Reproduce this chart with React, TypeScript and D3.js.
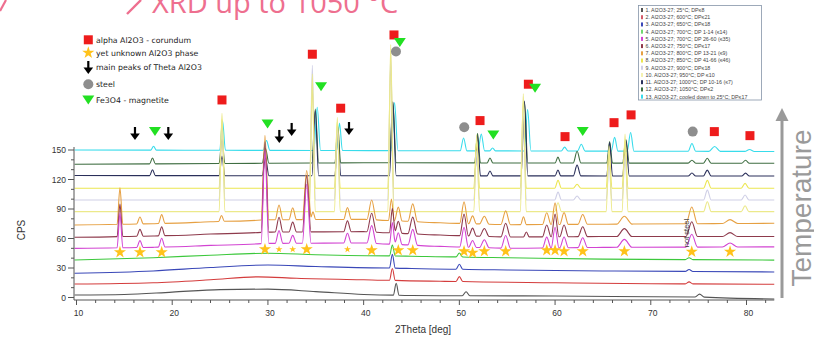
import React from 'react';
import * as d3 from 'd3';

type Pt = [number, number];
type Peak = [number, number, number]; // 2theta (deg), height (CPS), half-width (deg)

const W = 814;
const H = 342;

const seriesLabels = [
  '1. Al2O3-27; 25°C; DP≤8',
  '2. Al2O3-27; 600°C; DP≤21',
  '3. Al2O3-27; 650°C; DP≤18',
  '4. Al2O3-27; 700°C; DP 1-14 (≤14)',
  '5. Al2O3-27; 700°C; DP 26-60 (≤35)',
  '6. Al2O3-27; 750°C; DP≤17',
  '7. Al2O3-27; 800°C; DP 13-21 (≤9)',
  '8. Al2O3-27; 850°C; DP 41-66 (≤46)',
  '9. Al2O3-27; 900°C; DP≤18',
  '10. Al2O3-27; 950°C; DP ≤10',
  '11. Al2O3-27; 1000°C; DP 10-16 (≤7)',
  '12. Al2O3-27; 1050°C; DP≤2',
  '13. Al2O3-27; cooled down to 25°C; DP≤17',
];

const lineColors = ['#555555', '#d43c3c', '#3a48b8', '#3cc83c', '#d244d2', '#8e3a4c', '#e6a042', '#ece98a', '#cfcfe6', '#ece650', '#2a2f5a', '#3f6e42', '#38dceb'];
const swatchColors = ['#555555', '#d45a6a', '#3a48b8', '#6fd86f', '#d244d2', '#8e3a4c', '#e6a042', '#ece650', '#cfcfe6', '#f4f2b0', '#2a2f5a', '#3f6e42', '#38dceb'];

// baselines [2theta, CPS]
const base1: Pt[] = [[9.8, 2.5], [15, 3], [20, 5.5], [25, 8], [30, 8.5], [35, 6], [40, 3], [45, 2], [60, 1.5], [75, 0.5], [82.9, -1.5]];
const base2: Pt[] = [[9.8, 13.7], [18, 15], [24, 18], [29, 21], [33, 19.5], [40, 18], [48, 16.5], [60, 15], [70, 14], [82.9, 13.5]];
const base3: Pt[] = [[9.8, 24.6], [18, 27], [24, 30.5], [30, 33], [35, 31.5], [45, 29.5], [55, 28], [65, 27], [82.9, 26]];
const base4: Pt[] = [[9.8, 38.1], [18, 40.5], [24, 43], [30, 45], [35, 43.5], [45, 42], [55, 40.5], [65, 39], [82.9, 38]];
const base5: Pt[] = [[9.8, 50], [18, 51], [24, 53], [30, 55], [40, 55.5], [48, 52], [55, 50], [65, 51], [82.9, 51.5]];
const base6: Pt[] = [[9.8, 61.2], [18, 62.5], [24, 64.5], [30, 66.5], [40, 67], [48, 63.5], [55, 61.5], [65, 62], [82.9, 62]];
const base7: Pt[] = [[9.8, 73.8], [18, 75], [24, 77], [30, 79], [40, 79.5], [48, 76], [55, 74], [65, 74.5], [82.9, 75.5]];
const base8: Pt[] = [[9.8, 87.3], [82.9, 87.3]];
const base9: Pt[] = [[9.8, 99.2], [82.9, 99.2]];
const base10: Pt[] = [[9.8, 111.1], [82.9, 111.1]];
const base11: Pt[] = [[9.8, 124], [82.9, 123.5]];
const base12: Pt[] = [[9.8, 135.5], [40, 137], [82.9, 136.5]];
const base13: Pt[] = [[9.8, 150], [82.9, 148.5]];

// peaks
const peaks1: Peak[] = [[43.4, 12, 0.3], [50.7, 4, 0.4], [75.1, 3, 0.5]];
const peaks2: Peak[] = [[43.0, 12, 0.3], [50.0, 5, 0.35], [74.0, 2, 0.4]];
const peaks3: Peak[] = [[43.0, 14, 0.3], [50.0, 5, 0.35], [74.0, 2, 0.4]];
const peaks4: Peak[] = [[43.0, 11, 0.3], [50.0, 4, 0.35], [74.0, 2, 0.4]];
const peaks5: Peak[] = [
  [14.54, 35, 0.3], [16.63, 7, 0.35], [18.9, 9, 0.35], [29.69, 95, 0.4], [31.16, 13, 0.4], [32.59, 8, 0.4],
  [34.05, 60, 0.45], [38.31, 10, 0.4], [40.84, 18, 0.5], [43.0, 22, 0.3], [43.62, 12, 0.4], [45.13, 16, 0.5],
  [50.49, 20, 0.45], [51.38, 7, 0.4], [52.61, 8, 0.5], [54.84, 13, 0.5], [59.13, 11, 0.45], [60.0, 21, 0.4],
  [60.94, 11, 0.45], [62.89, 10, 0.5], [67.24, 8, 0.8], [74.28, 13, 0.6], [78.28, 4, 0.8],
];
const peaks6: Peak[] = [
  [14.54, 33, 0.3], [16.63, 7, 0.35], [18.9, 9, 0.35], [29.69, 92, 0.4], [31.16, 15, 0.4], [32.59, 10, 0.4],
  [34.05, 57, 0.45], [38.31, 11, 0.4], [40.84, 19, 0.5], [43.0, 25, 0.3], [43.62, 12, 0.4], [45.13, 17, 0.5],
  [50.49, 22, 0.45], [51.38, 8, 0.4], [52.61, 8, 0.5], [54.84, 14, 0.5], [57.0, 5, 0.3], [59.13, 12, 0.45],
  [60.0, 23, 0.4], [60.94, 12, 0.45], [62.89, 10, 0.5], [67.24, 8, 0.8], [74.28, 15, 0.6], [78.28, 4, 0.8],
];
const peaks7: Peak[] = [
  [14.54, 37, 0.3], [16.63, 7, 0.35], [18.9, 9, 0.35], [25.15, 6, 0.3], [29.69, 86, 0.4], [31.16, 15, 0.4],
  [32.59, 12, 0.4], [34.05, 50, 0.45], [34.7, 8, 0.3], [38.31, 12, 0.4], [40.84, 20, 0.5], [42.9, 22, 0.3],
  [43.62, 14, 0.4], [45.13, 18, 0.5], [50.49, 22, 0.45], [51.38, 8, 0.4], [52.61, 8, 0.5], [54.84, 14, 0.5],
  [56.7, 8, 0.3], [59.13, 12, 0.45], [60.0, 22, 0.4], [60.94, 12, 0.45], [62.89, 10, 0.5], [67.24, 8, 0.8],
  [74.28, 17, 0.6], [78.28, 4, 0.8],
];
const peaks8: Peak[] = [
  [25.2, 100, 0.3], [34.64, 140, 0.3], [37.25, 96, 0.3], [42.83, 170, 0.3], [51.81, 78, 0.3], [56.68, 120, 0.3],
  [60.31, 9, 0.35], [65.64, 67, 0.3], [67.31, 79, 0.3], [75.91, 10, 0.4], [79.85, 6, 0.4],
];
const peaks9: Peak[] = [
  [25.2, 75, 0.3], [34.64, 137, 0.3], [37.25, 75, 0.3], [42.83, 148, 0.3], [51.81, 50, 0.3], [56.68, 95, 0.3],
  [60.31, 8, 0.35], [62.3, 4, 0.4], [65.64, 35, 0.3], [67.31, 45, 0.3], [75.91, 10, 0.4], [79.85, 5, 0.4],
];
const peaks10: Peak[] = [
  [25.2, 70, 0.3], [34.64, 103, 0.3], [37.25, 68, 0.3], [42.83, 128, 0.3], [51.81, 48, 0.3], [56.68, 88, 0.3],
  [60.31, 8, 0.35], [62.3, 4, 0.4], [65.64, 38, 0.3], [67.31, 48, 0.3], [75.91, 8, 0.4], [79.85, 5, 0.4],
];
const peaks11: Peak[] = [
  [17.94, 6, 0.3], [25.2, 20, 0.3], [29.75, 18, 0.35], [34.95, 66, 0.35], [37.3, 45, 0.3], [43.05, 75, 0.35],
  [51.9, 40, 0.3], [53.2, 5, 0.3], [56.8, 76, 0.35], [60.3, 6, 0.3], [62.3, 11, 0.4], [65.7, 34, 0.3],
  [67.4, 36, 0.35], [74.3, 3, 0.4], [75.9, 6, 0.4], [79.9, 3, 0.4],
];
const peaks12: Peak[] = [
  [17.94, 6, 0.3], [25.2, 25, 0.3], [29.75, 15, 0.35], [34.95, 55, 0.35], [37.3, 37, 0.3], [43.05, 62, 0.35],
  [51.9, 30, 0.3], [53.2, 5, 0.3], [56.8, 62, 0.35], [60.3, 6, 0.3], [62.3, 12, 0.4], [65.7, 22, 0.3],
  [67.4, 24, 0.35], [74.3, 3, 0.4], [75.9, 5, 0.4], [79.9, 3, 0.4],
];
const peaks13: Peak[] = [
  [18.05, 4, 0.3], [25.26, 30, 0.3], [29.85, 10, 0.35], [35.15, 44, 0.35], [37.48, 28, 0.3], [43.23, 49, 0.35],
  [50.44, 13, 0.35], [52.29, 17, 0.35], [53.47, 3, 0.3], [57.13, 42, 0.35], [61.0, 4, 0.35], [62.74, 7, 0.4],
  [66.22, 14, 0.35], [67.89, 19, 0.35], [74.3, 8, 0.4], [76.67, 5, 0.6], [80.32, 2, 0.5],
];

const baselines = [base1, base2, base3, base4, base5, base6, base7, base8, base9, base10, base11, base12, base13];
const peakLists = [peaks1, peaks2, peaks3, peaks4, peaks5, peaks6, peaks7, peaks8, peaks9, peaks10, peaks11, peaks12, peaks13];

// annotation markers [2theta, CPS]
const corundumMarks: Pt[] = [[25.2, 200.9], [34.64, 247.4], [37.6, 192.5], [43.17, 267], [52.16, 179.9], [57.21, 216.9], [61.04, 163.6], [66.16, 177.8], [67.94, 185.7], [76.64, 168.7], [80.36, 164.6]];
const magnetiteMarks: Pt[] = [[18.2, 168.7], [29.96, 176.5], [35.55, 214.4], [43.78, 259.2], [53.55, 165.3], [57.91, 212.8], [62.89, 168.7]];
const steelMarks: Pt[] = [[43.38, 250.1], [50.51, 173.1], [74.38, 168.7]];
const thetaMarks: Pt[] = [[16.11, 173.4], [19.59, 173.4], [31.19, 170.4], [32.48, 177.5], [38.47, 178.5]];
const unknownMarks: Pt[] = [
  [14.54, 46], [16.63, 46], [18.9, 46], [29.69, 49], [34.05, 49], [40.84, 48], [43.62, 48], [45.13, 48],
  [50.49, 47], [51.38, 45.5], [52.61, 47], [54.84, 47], [59.13, 48], [60.0, 48], [60.94, 47], [62.89, 47],
  [67.24, 47], [74.28, 46.5], [78.28, 46.5],
];
const unknownSmallMarks: Pt[] = [[31.16, 49], [32.59, 49], [38.31, 49]];

const xTicks = [10, 20, 30, 40, 50, 60, 70, 80];
const xMinorTicks = [12, 14, 16, 18, 22, 24, 26, 28, 32, 34, 36, 38, 42, 44, 46, 48, 52, 54, 56, 58, 62, 64, 66, 68, 72, 74, 76, 78, 82];
const yTicks = [0, 30, 60, 90, 120, 150];
const yMinorTicks = [10, 20, 40, 50, 70, 80, 100, 110, 130, 140];

const phaseLegend = ['alpha Al2O3 - corundum', 'yet unknown Al2O3 phase', 'main peaks of Theta Al2O3', 'steel', 'Fe3O4 - magnetite'];

const FONT = '"Liberation Sans", Arial, sans-serif';
const STAR_COLOR = '#ffc21a';
const RED = '#ee1c1c';
const GREEN = '#22e022';
const GREY = '#8e8e8e';

function profile(base: Pt[], peaks: Peak[]): Pt[] {
  const bl = d3.scaleLinear().domain(base.map((b) => b[0])).range(base.map((b) => b[1]));
  const xs: number[] = [];
  base.forEach(([bx]) => {
    if (!peaks.some(([c, , w]) => Math.abs(bx - c) < w)) xs.push(bx);
  });
  peaks.forEach(([c, , w]) => xs.push(c - w, c, c + w));
  const sorted = Array.from(new Set(xs)).sort((a, b) => a - b);
  return sorted.map((px) => [
    px,
    bl(px) + d3.sum(peaks, ([c, h, w]) => Math.max(0, h * (1 - Math.abs(px - c) / w))),
  ]);
}

export default function App() {
  const x = d3.scaleLinear().domain([10, 80]).range([76.5, 746.5]);
  const y = d3.scaleLinear().domain([0, 150]).range([297.5, 150]);
  const line = d3
    .line<Pt>()
    .x((d) => x(d[0]))
    .y((d) => y(d[1]))
    .curve(d3.curveMonotoneX);

  const starBig = d3.symbol().type(d3.symbolStar).size(46)();
  const starSmall = d3.symbol().type(d3.symbolStar).size(15)();
  const axisX0 = 74;
  const axisY = 300;

  const tri = (cx: number, cy: number, s: number) =>
    `M${cx - s},${cy - s * 0.75}L${cx + s},${cy - s * 0.75}L${cx},${cy + s * 0.75}Z`;

  const arrow = (cx: number, top: number, key: string | number) => (
    <g key={key}>
      <line x1={cx} x2={cx} y1={top} y2={top + 8} stroke="#000" strokeWidth={2.2} />
      <path d={`M${cx - 4.8},${top + 6.5}L${cx + 4.8},${top + 6.5}L${cx},${top + 13}Z`} fill="#000" />
    </g>
  );

  const order = d3.range(12, -1, -1);

  return (
    <svg
      width={W}
      height={H}
      viewBox={`0 0 ${W} ${H}`}
      style={{ position: 'absolute', left: 0, top: 0, background: '#fff', overflow: 'hidden' }}
      fontFamily={FONT}
    >
      <rect x={0} y={0} width={W} height={H} fill="#fff" />

      {/* title fragment */}
      <line x1={0} y1={11} x2={6} y2={0} stroke="#ee6f8f" strokeWidth={2.2} />
      <line x1={127} y1={14} x2={141} y2={0} stroke="#ee6f8f" strokeWidth={2.4} />
      <text x={152} y={13} fontSize={29} fill="#ee6f8f" fontFamily='"Open Sans", "Liberation Sans", sans-serif'>
        XRD up to 1050 °C
      </text>

      {/* spectra */}
      {order.map((i) => (
        <path
          key={i}
          d={line(profile(baselines[i], peakLists[i])) || ''}
          fill="none"
          stroke={lineColors[i]}
          strokeWidth={1.1}
          strokeLinejoin="round"
        />
      ))}

      {/* axes */}
      <g stroke="#555" strokeWidth={1}>
        <line x1={axisX0} x2={axisX0} y1={y(150) - 3} y2={axisY} />
        <line x1={axisX0} x2={x(82.9)} y1={axisY} y2={axisY} />
        {yTicks.map((t) => (
          <line key={'ym' + t} x1={axisX0 - 6} x2={axisX0} y1={y(t)} y2={y(t)} />
        ))}
        {yMinorTicks.map((t) => (
          <line key={'yn' + t} x1={axisX0 - 3} x2={axisX0} y1={y(t)} y2={y(t)} />
        ))}
        {xTicks.map((t) => (
          <line key={'xm' + t} x1={x(t)} x2={x(t)} y1={axisY} y2={axisY + 5} />
        ))}
        {xMinorTicks.map((t) => (
          <line key={'xn' + t} x1={x(t)} x2={x(t)} y1={axisY} y2={axisY + 3} />
        ))}
      </g>
      {yTicks.map((t) => (
        <text key={'yl' + t} x={axisX0 - 8} y={y(t) + 3} fontSize={8.5} fill="#333" textAnchor="end">
          {t}
        </text>
      ))}
      {xTicks.map((t) => (
        <text key={'xl' + t} x={x(t) + 2} y={316} fontSize={8.5} fill="#333" textAnchor="middle">
          {t}
        </text>
      ))}
      <text x={423} y={333} fontSize={10} fill="#333" textAnchor="middle">
        2Theta [deg]
      </text>
      <text transform="translate(25,230) rotate(-90)" fontSize={10} fill="#333" textAnchor="middle">
        CPS
      </text>

      {/* phase markers */}
      {unknownMarks.map((d, i) => (
        <path key={'st' + i} d={starBig} transform={`translate(${x(d[0])},${y(d[1])})`} fill={STAR_COLOR} />
      ))}
      {unknownSmallMarks.map((d, i) => (
        <path key={'ss' + i} d={starSmall} transform={`translate(${x(d[0])},${y(d[1])})`} fill={STAR_COLOR} />
      ))}
      {corundumMarks.map((d, i) => (
        <rect key={'sq' + i} x={x(d[0]) - 4.5} y={y(d[1]) - 4.5} width={9} height={9} fill={RED} />
      ))}
      {steelMarks.map((d, i) => (
        <circle key={'ci' + i} cx={x(d[0])} cy={y(d[1])} r={5} fill={GREY} />
      ))}
      {magnetiteMarks.map((d, i) => (
        <path key={'tr' + i} d={tri(x(d[0]), y(d[1]), 6)} fill={GREEN} />
      ))}
      {thetaMarks.map((d, i) => arrow(x(d[0]), y(d[1]), 'ar' + i))}

      <text transform={`translate(${x(74.28) - 3},233) rotate(-90)`} fontSize={7.5} fill="#333" textAnchor="middle">
        not steel
      </text>

      {/* phase legend */}
      <g>
        <rect x={83.8} y={35.3} width={9} height={9} fill={RED} />
        <path d={starBig} transform="translate(88.3,52.7)" fill={STAR_COLOR} />
        {arrow(88.3, 61, 'lg-arrow')}
        <circle cx={88.3} cy={84.3} r={5} fill={GREY} />
        <path d={tri(88.3, 100, 6)} fill={GREEN} />
        {phaseLegend.map((t, i) => (
          <text
            key={t}
            x={96}
            y={[42.7, 56, 69.5, 87.3, 103][i]}
            fontSize={7.8}
            fill="#222"
            fontFamily='"DejaVu Sans", Verdana, sans-serif'
          >
            {t}
          </text>
        ))}
      </g>

      {/* series legend */}
      <g>
        <rect x={638.5} y={5.5} width={123} height={94.5} fill="#fff" stroke="#8595a8" strokeWidth={0.8} />
        {seriesLabels.map((t, i) => {
          const cy = 10 + i * 7.22;
          return (
            <g key={t}>
              <rect x={641} y={cy - 2} width={2} height={4} fill={swatchColors[i]} />
              <text x={645.5} y={cy + 1.9} fontSize={5.3} fill="#444">
                {t}
              </text>
            </g>
          );
        })}
      </g>

      {/* temperature arrow */}
      <line x1={782} x2={782} y1={298} y2={118} stroke="#9a9a9a" strokeWidth={3} />
      <path d="M775.5,121L788.5,121L782,108Z" fill="#9a9a9a" />
      <text transform="translate(811,208) rotate(-90)" fontSize={28} fill="#9a9a9a" textAnchor="middle">
        Temperature
      </text>
    </svg>
  );
}
